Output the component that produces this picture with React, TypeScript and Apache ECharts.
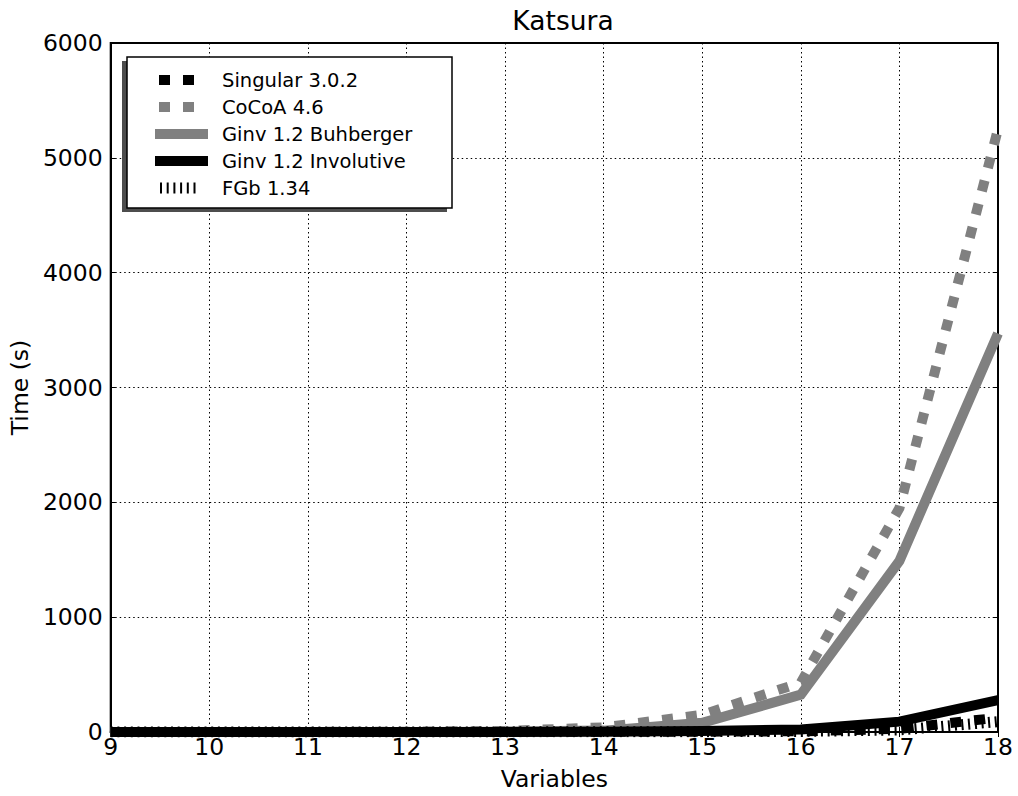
import React, { useEffect, useRef } from "react";
import * as echarts from "echarts";

const variables = [9, 10, 11, 12, 13, 14, 15, 16, 17, 18];
const seriesNames = ["Singular 3.0.2", "CoCoA 4.6", "Ginv 1.2 Buhberger", "Ginv 1.2 Involutive", "FGb 1.34"];
const singular = [0, 0, 0, 0, 1, 2, 3, 6, 28, 125];
const cocoa = [0, 0, 1, 3, 10, 40, 150, 430, 1950, 5250];
const buchberger = [0, 0, 0, 1, 3, 12, 80, 325, 1490, 3470];
const involutive = [0, 0, 0, 0, 1, 3, 8, 22, 90, 278];
const fgb = [0, 0, 0, 0, 1, 2, 3, 5, 18, 90];
const yTicks = [0, 1000, 2000, 3000, 4000, 5000, 6000];

const FONT = "DejaVu Sans";
const GRAY = "#808080";

const styles = [
  { color: "#000", width: 10, dash: [11, 13] as number[] | null },
  { color: GRAY, width: 10, dash: [11, 13] as number[] | null },
  { color: GRAY, width: 10, dash: null },
  { color: "#000", width: 10, dash: null },
  { color: "#000", width: 11, dash: [2, 4.7] as number[] | null },
];

export default function App() {
  const ref = useRef<HTMLDivElement>(null);
  useEffect(() => {
    if (!ref.current) return;
    const chart = echarts.init(ref.current, undefined, { renderer: "svg" });
    const values = [singular, cocoa, buchberger, involutive, fgb];
    const series = values.map((vals, i) => ({
      name: seriesNames[i],
      type: "line" as const,
      data: vals.map((v, j) => [variables[j], v]),
      showSymbol: false,
      symbol: "none",
      xAxisIndex: 0,
      yAxisIndex: 0,
      lineStyle: {
        color: styles[i].color,
        width: styles[i].width,
        type: styles[i].dash ? styles[i].dash : "solid",
        cap: "butt",
        join: "miter",
      },
      z: 3 + i,
    }));

    const lx = 127, ly = 57, lw = 325, lh = 151;
    const legendEls: any[] = [
      { type: "rect", shape: { x: lx - 5, y: ly + 4, width: lw, height: lh }, style: { fill: "#4d4d4d" }, z: 100 },
      { type: "rect", shape: { x: lx, y: ly, width: lw, height: lh }, style: { fill: "#fff", stroke: "#000", lineWidth: 1.5 }, z: 101 },
    ];
    seriesNames.forEach((n, i) => {
      const cy = ly + 23 + i * 27;
      const st = styles[i];
      const x1 = i === 4 ? 160 : i < 2 ? 159 : 155;
      const x2 = i === 4 ? 200 : i < 2 ? 196 : 208;
      legendEls.push({
        type: "line",
        shape: { x1, y1: cy, x2, y2: cy },
        style: { stroke: st.color, lineWidth: st.width, lineDash: st.dash || undefined, lineCap: "butt" },
        z: 102,
      });
      legendEls.push({
        type: "text",
        x: 222,
        y: cy,
        style: { text: n, fontFamily: FONT, fontSize: 19.5, fill: "#000", verticalAlign: "middle", align: "left" },
        z: 102,
      });
    });

    chart.setOption({
      animation: false,
      backgroundColor: "#fff",
      title: {
        text: "Katsura",
        left: 558,
        top: 2,
        textAlign: "center",
        textStyle: { fontFamily: FONT, fontSize: 26.5, fontWeight: "normal", color: "#000" },
      },
      grid: { left: 109, right: 20, top: 43, bottom: 61, show: true, borderColor: "#000", borderWidth: 2, backgroundColor: "transparent" },
      xAxis: [
        {
          type: "value", min: 9, max: 18, interval: 1,
          name: "Variables", nameLocation: "middle", nameGap: 35,
          nameTextStyle: { fontFamily: FONT, fontSize: 23.5, color: "#000" },
          axisLine: { show: true, lineStyle: { color: "#000", width: 2 } },
          axisTick: { show: true, inside: true, length: 5, lineStyle: { color: "#000" } },
          axisLabel: { fontFamily: FONT, fontSize: 23.5, color: "#000", margin: 3 },
          splitLine: { show: true, lineStyle: { color: "#000", type: [1.5, 3], width: 1 } },
        },
        {
          type: "value", min: 9, max: 18, interval: 1, position: "top",
          axisLine: { show: false },
          axisTick: { show: true, inside: true, length: 5, lineStyle: { color: "#000" } },
          axisLabel: { show: false },
          splitLine: { show: false },
        },
      ],
      yAxis: [
        {
          type: "value", min: 0, max: 6000, interval: 1000,
          name: "Time (s)", nameLocation: "middle", nameGap: 76, nameRotate: 90,
          nameTextStyle: { fontFamily: FONT, fontSize: 23.5, color: "#000" },
          axisLine: { show: true, lineStyle: { color: "#000", width: 2 } },
          axisTick: { show: true, inside: true, length: 5, lineStyle: { color: "#000" } },
          axisLabel: { fontFamily: FONT, fontSize: 23.5, color: "#000", margin: 8, formatter: (v: number) => (yTicks.includes(v) ? String(v) : "") },
          splitLine: { show: true, lineStyle: { color: "#000", type: [1.5, 3], width: 1 } },
        },
        {
          type: "value", min: 0, max: 6000, interval: 1000, position: "right",
          axisLine: { show: false },
          axisTick: { show: true, inside: true, length: 5, lineStyle: { color: "#000" } },
          axisLabel: { show: false },
          splitLine: { show: false },
        },
      ],
      series,
      graphic: legendEls,
    });
    return () => chart.dispose();
  }, []);
  return <div ref={ref} style={{ position: "fixed", left: 0, top: 0, width: 1018, height: 796, background: "#fff" }} />;
}
